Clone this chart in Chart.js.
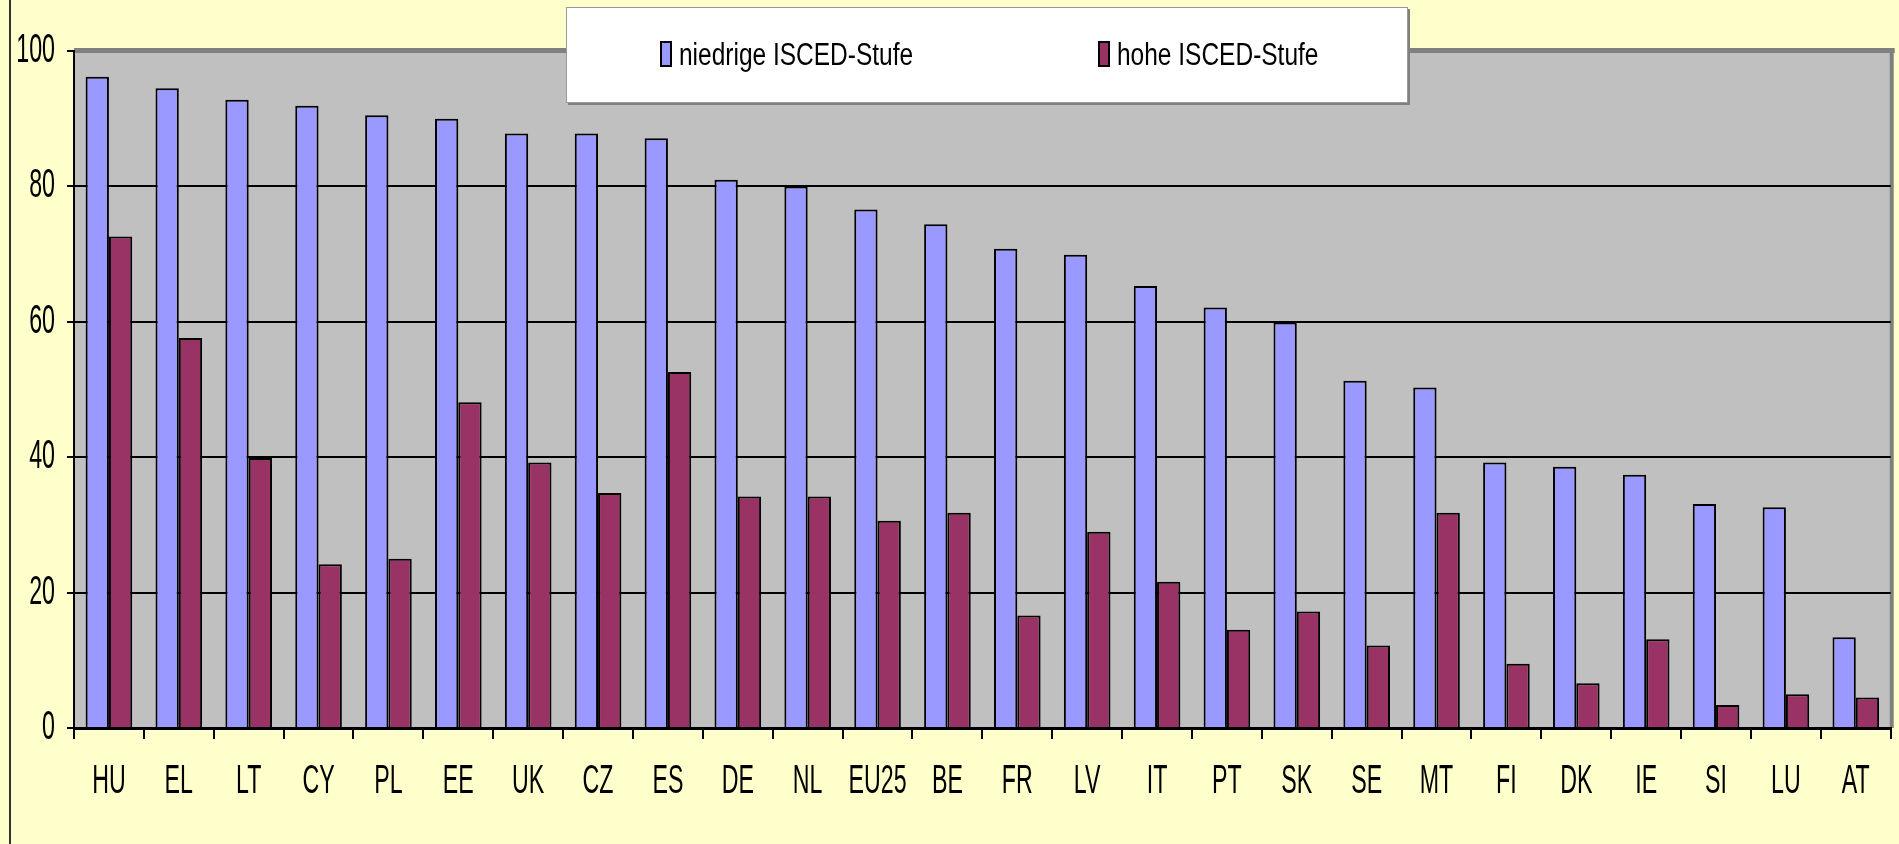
<!DOCTYPE html>
<html>
<head>
<meta charset="utf-8">
<script src="https://cdn.jsdelivr.net/npm/chart.js@4/dist/chart.umd.min.js"></script>
<style>
    body { margin: 0; background: #FFFFCC; }
    #wrap { position: relative; width: 1899px; height: 844px; }
    #edge { position: absolute; left: 9px; top: 0; width: 2px; height: 844px; background: #333; }
    #legend {
        position: absolute; left: 566px; top: 7px; width: 840px; height: 94px;
        background: #fff; border: 1px solid #999; box-shadow: 2px 2px 0 #808080;
        font-family: "Liberation Sans", Arial, sans-serif;
        font-size: 31px; color: #000;
    }
    #legend .item { position: absolute; top: 30px; line-height: 34px; height: 34px; white-space: nowrap; }
    #legend .box { display: inline-block; width: 8px; height: 22px; border: 2px solid #000; vertical-align: -2px; margin-right: 7px; }
    #legend .txt { display: inline-block; transform: scaleX(0.79); transform-origin: 0 50%; }
</style>
</head>
<body>
<div id="wrap">
    <canvas id="chart" width="1899" height="844"></canvas>
    <div id="edge"></div>
    <div id="legend"></div>
</div>
<script>
const countries = ['HU', 'EL', 'LT', 'CY', 'PL', 'EE', 'UK', 'CZ', 'ES', 'DE', 'NL', 'EU25', 'BE',
    'FR', 'LV', 'IT', 'PT', 'SK', 'SE', 'MT', 'FI', 'DK', 'IE', 'SI', 'LU', 'AT'];
const niedrige = [96.2, 94.5, 92.8, 91.9, 90.5, 90.0, 87.8, 87.8, 87.1, 81.0, 80.0, 76.6, 74.4,
    70.8, 69.9, 65.3, 62.1, 59.9, 51.3, 50.3, 39.2, 38.6, 37.4, 33.1, 32.6, 13.4];
const hohe = [72.6, 57.6, 39.9, 24.2, 25.0, 48.1, 39.2, 34.7, 52.6, 34.2, 34.2, 30.6, 31.8,
    16.6, 29.0, 21.6, 14.5, 17.2, 12.2, 31.8, 9.5, 6.6, 13.1, 3.4, 5.0, 4.5];
const yTicks = [0, 20, 40, 60, 80, 100];
const seriesNames = ['niedrige ISCED-Stufe', 'hohe ISCED-Stufe'];
const seriesColors = ['#9999FF', '#993366'];

const font = { family: '"Liberation Sans", Arial, sans-serif', size: 40 };

// html legend, sits over the top of the plot like in the original
let legend = document.getElementById('legend');
[93, 531].forEach((left, i) => {
    let item = document.createElement('div');
    item.className = 'item';
    item.style.left = left + 'px';
    item.innerHTML = '<span class="box" style="background:' + seriesColors[i] + '"></span>' +
        '<span class="txt">' + seriesNames[i] + '</span>';
    legend.appendChild(item);
});

// the original axis text is very narrow and tall, squeeze glyphs around their anchor
const canvas = document.getElementById('chart');
const c2d = canvas.getContext('2d');
const fillText = c2d.fillText;
c2d.fillText = function (text, x, y) {
    this.save();
    this.translate(x, y);
    this.scale(0.58, 1);
    fillText.call(this, text, 0, 0);
    this.restore();
};

const plotBg = {
    id: 'plotBg',
    beforeDraw(chart) {
        let { ctx, chartArea: a } = chart;
        ctx.save();
        ctx.fillStyle = '#C0C0C0';
        ctx.fillRect(a.left, a.top, a.right - a.left, a.bottom - a.top);
        ctx.fillStyle = '#808080';
        ctx.fillRect(a.left, a.top - 3, a.right - a.left + 4, 5);
        ctx.fillRect(a.right - 1, a.top - 3, 4, a.bottom - a.top + 3);
        ctx.restore();
    }
};

new Chart(canvas, {
    type: 'bar',
    data: {
        labels: countries,
        datasets: [
            { label: seriesNames[0], data: niedrige, backgroundColor: seriesColors[0] },
            { label: seriesNames[1], data: hohe, backgroundColor: seriesColors[1] }
        ]
    },
    options: {
        responsive: false,
        animation: false,
        layout: { padding: { left: 0, right: 7, top: 51, bottom: 0 } },
        datasets: {
            bar: { borderColor: '#000', borderWidth: 2, categoryPercentage: 0.667, barPercentage: 1 }
        },
        plugins: { legend: { display: false }, tooltip: { enabled: false } },
        scales: {
            x: {
                afterFit: s => { s.height = 116; },
                grid: { drawOnChartArea: false, color: '#000', tickLength: 11, lineWidth: 2 },
                border: { color: '#000', width: 3 },
                ticks: { color: '#000', font: font, padding: 19, maxRotation: 0, autoSkip: false }
            },
            y: {
                min: 0, max: 100,
                afterFit: s => { s.width = 74; },
                afterBuildTicks: s => { s.ticks = yTicks.map(v => ({ value: v })); },
                grid: {
                    color: c => c.tick && c.tick.value === 100 ? 'rgba(0,0,0,0)' : '#000',
                    tickColor: '#000', tickLength: 7, lineWidth: 2
                },
                border: { color: '#000', width: 2 },
                ticks: { color: '#000', font: font, padding: 12 }
            }
        }
    },
    plugins: [plotBg]
});
</script>
</body>
</html>
